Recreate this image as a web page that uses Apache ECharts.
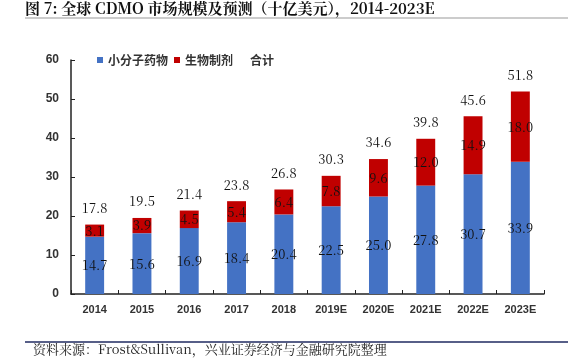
<!DOCTYPE html>
<html><head><meta charset="utf-8">
<script src="https://cdn.jsdelivr.net/npm/echarts@6/dist/echarts.min.js"></script>
<style>html,body{margin:0;padding:0;background:#fff;}#c{width:568px;height:361px;}</style>
</head><body><div id="c"></div>
<script>
var categories = ['2014','2015','2016','2017','2018','2019E','2020E','2021E','2022E','2023E'];
var smallMolecule = [14.7, 15.6, 16.9, 18.4, 20.4, 22.5, 25.0, 27.8, 30.7, 33.9];
var biologics = [3.1, 3.9, 4.5, 5.4, 6.4, 7.8, 9.6, 12.0, 14.9, 18.0];
var totals = [17.8, 19.5, 21.4, 23.8, 26.8, 30.3, 34.6, 39.8, 45.6, 51.8];
var yTicks = [0, 10, 20, 30, 40, 50, 60];

var chart = echarts.init(document.getElementById('c'));
var serif = '"Noto Serif CJK SC","Liberation Serif","DejaVu Serif",serif';
var labelFont = {fontFamily: serif, fontSize: 13, color: '#111'};
function fmt(p){ return Number(p.value).toFixed(1); }
chart.setOption({
  animation: false,
  graphic: [
    {type: 'text', left: 25, top: 1, style: {text: '图 7: 全球 CDMO 市场规模及预测（十亿美元），2014-2023E', font: 'bold 15px "Noto Serif CJK SC","Noto Sans CJK SC",serif', fill: '#111'}},
    {type: 'line', shape: {x1: 25, y1: 18, x2: 568, y2: 18}, style: {stroke: '#999', lineWidth: 1}},
    {type: 'line', shape: {x1: 25, y1: 342, x2: 568, y2: 342}, style: {stroke: '#1f2a60', lineWidth: 1.5}},
    {type: 'text', left: 33, top: 343, style: {text: '资料来源：Frost&Sullivan，兴业证券经济与金融研究院整理', font: '13px "Noto Serif CJK SC","Liberation Serif",serif', fill: '#222'}}
  ],
  legend: {
    top: 49, left: 92, itemWidth: 6, itemHeight: 6, itemGap: 6,
    textStyle: {fontFamily: '"Noto Sans CJK SC",sans-serif', fontSize: 12, fontWeight: 'bold', color: '#333'},
    data: [
      {name: '小分子药物', icon: 'rect'},
      {name: '生物制剂', icon: 'rect'},
      {name: '合计', icon: 'rect', itemStyle: {color: 'rgba(0,0,0,0)'}}
    ]
  },
  grid: {left: 71, right: 24, top: 60, bottom: 67},
  xAxis: {
    type: 'category', data: categories,
    axisLine: {lineStyle: {color: '#222', width: 1.5}},
    axisTick: {show: true, inside: true, length: 4, lineStyle: {color: '#222'}},
    axisLabel: {interval: 0, fontFamily: '"Liberation Sans","DejaVu Sans",sans-serif', fontWeight: 'bold', fontSize: 11, color: '#333', margin: 10}
  },
  yAxis: {
    type: 'value', min: yTicks[0], max: yTicks[yTicks.length - 1], interval: 10,
    splitLine: {show: false},
    axisLine: {show: true, lineStyle: {color: '#222', width: 1.5}},
    axisTick: {show: true, inside: true, length: 4, lineStyle: {color: '#222'}},
    axisLabel: {fontFamily: '"Liberation Sans","DejaVu Sans",sans-serif', fontWeight: 'bold', fontSize: 12, color: '#333', margin: 12}
  },
  series: [
    {name: '小分子药物', type: 'bar', stack: 'a', barWidth: '40%', data: smallMolecule,
     itemStyle: {color: '#4472C4'},
     label: Object.assign({show: true, position: 'inside', formatter: fmt}, labelFont)},
    {name: '生物制剂', type: 'bar', stack: 'a', data: biologics,
     itemStyle: {color: '#C00000'},
     label: Object.assign({show: true, position: 'inside', formatter: fmt}, labelFont)},
    {name: '合计', type: 'line', data: totals, symbol: 'circle', symbolSize: 2, showSymbol: true,
     itemStyle: {color: 'rgba(0,0,0,0)'}, lineStyle: {width: 0, color: 'rgba(0,0,0,0)'},
     label: Object.assign({show: true, position: 'top', distance: 9, formatter: fmt}, labelFont)}
  ]
});
</script></body></html>
